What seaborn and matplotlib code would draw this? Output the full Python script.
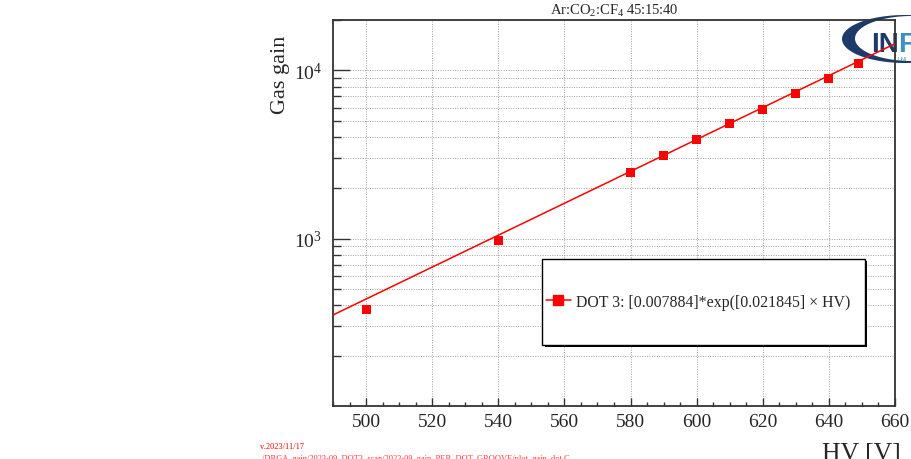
import numpy as np
import pandas as pd
import seaborn as sns
import matplotlib.pyplot as plt
from matplotlib.lines import Line2D
from matplotlib.patches import Rectangle, PathPatch
from matplotlib.path import Path
from matplotlib.ticker import MultipleLocator, LogLocator, NullFormatter

# --------------------------------------------------
# DATA
# --------------------------------------------------

hv = [500, 540, 580, 590, 600, 610, 620, 630, 640, 649]
gain = [379, 973, 2472, 3105, 3862, 4807, 5873, 7241, 8918, 11001]

# fit parameters as printed in the legend
p0 = 0.007884
p1 = 0.021845
fit_lo, fit_hi = 490, 660

title = "Ar:CO$_2$:CF$_4$ 45:15:40"
legend_label = "DOT 3: [0.007884]*exp([0.021845] \u00d7 HV)"
version = "v.2023/11/17"
macro_path = "/DRGA_gain/2023-09_DOT3_scan/2023-09_gain_PER_DOT_GROOVE/plot_gain_dot.C"

points = pd.DataFrame({"HV": hv, "gain": gain})
x_fit = np.linspace(fit_lo, fit_hi, 200)
fit = pd.DataFrame({"HV": x_fit, "gain": p0 * np.exp(p1 * x_fit)})

# --------------------------------------------------
# STYLE
# --------------------------------------------------

sns.set_style("ticks")
plt.rcParams["font.family"] = ["Liberation Serif", "DejaVu Serif"]
plt.rcParams["mathtext.fontset"] = "custom"
plt.rcParams["mathtext.rm"] = "Liberation Serif"
plt.rcParams["mathtext.it"] = "Liberation Serif:italic"

W, H = 912, 460
fig = plt.figure(figsize=(W / 100, H / 100), dpi=100)
fig.patch.set_facecolor("white")
ax = fig.add_axes([333 / W, 1 - 407 / H, (895 - 333) / W, (407 - 20.7) / H])
ax.set_facecolor("none")

# --------------------------------------------------
# PLOT
# --------------------------------------------------

sns.lineplot(data=fit, x="HV", y="gain", color="red", lw=1.1, ax=ax, zorder=3)
sns.scatterplot(data=points, x="HV", y="gain", marker="s", s=42, color="red",
                edgecolor="none", ax=ax, zorder=4)

ax.set_yscale("log")
ax.set_xlim(fit_lo, fit_hi)
ax.set_ylim(101, 20000)

ax.xaxis.set_major_locator(MultipleLocator(20))
ax.xaxis.set_minor_locator(MultipleLocator(5))
ax.yaxis.set_major_locator(LogLocator(base=10))
ax.yaxis.set_minor_locator(LogLocator(base=10, subs=range(2, 10)))
ax.yaxis.set_minor_formatter(NullFormatter())

ax.tick_params(axis="x", which="major", direction="in", length=6, width=1,
               labelsize=14, pad=5, color="#333333")
ax.tick_params(axis="x", which="minor", direction="in", length=3, width=1,
               color="#333333")
ax.tick_params(axis="y", which="major", direction="in", length=12, width=1,
               labelsize=14, pad=8, color="#333333")
ax.tick_params(axis="y", which="minor", direction="in", length=6, width=1,
               color="#333333")

grid_kw = dict(color="#a0a0a0", lw=0.7, ls=(0, (1, 1.5)))
ax.grid(True, which="major", axis="x", **grid_kw)
ax.grid(True, which="both", axis="y", **grid_kw)

for s in ax.spines.values():
    s.set_color("#333333")
    s.set_linewidth(1.3)
    s.set_visible(True)

ax.set_title(title, fontsize=10.5, pad=4)
ax.set_ylabel("Gas gain", fontsize=16)
ax.yaxis.set_label_coords(-0.077, 0.86)
ax.set_xlabel("HV [V]", fontsize=18.5)
ax.xaxis.label.set_ha("right")
ax.xaxis.set_label_coords(1.01, -0.093)

# legend box with ROOT-like shadow
ax.add_patch(Rectangle((545 / W, 1 - 348 / H), (867 - 545) / W, (348 - 262) / H,
                       transform=fig.transFigure, facecolor="black",
                       edgecolor="none", zorder=4.8, clip_on=False))
ax.add_patch(Rectangle((542 / W, 1 - 346 / H), (865 - 542) / W, (346 - 260) / H,
                       transform=fig.transFigure, facecolor="white",
                       edgecolor="black", lw=1, zorder=4.9, clip_on=False))
handle = Line2D([], [], color="red", lw=1.1, marker="s", markersize=6.5)
ax.legend(handles=[handle], labels=[legend_label], loc="center left",
          bbox_to_anchor=(546 / W, 1 - 303 / H), bbox_transform=fig.transFigure,
          frameon=False, fontsize=11.4, handlelength=1.55, handletextpad=0.35,
          borderpad=0, borderaxespad=0)

# --------------------------------------------------
# LOGO (partly outside the canvas) AND FOOTER
# --------------------------------------------------

t = np.linspace(0, 2 * np.pi, 200)
outer = np.c_[905 + 63 * np.cos(t), 40 + 24 * np.sin(t)]
inner = np.c_[912 + 57 * np.cos(t), 39.5 + 22.5 * np.sin(t)][::-1]
verts = np.vstack([outer, inner])
verts = np.c_[verts[:, 0] / W, 1 - verts[:, 1] / H]
codes = ([Path.MOVETO] + [Path.LINETO] * 198 + [Path.CLOSEPOLY]) * 2
fig.add_artist(PathPatch(Path(verts, codes), facecolor="#1d3a6b",
                         edgecolor="none", transform=fig.transFigure, zorder=-1))
fig.text(871 / W, 1 - 52 / H, "IN", color="#1d3a6b", fontsize=20,
         fontweight="bold", family="Liberation Sans", ha="left",
         va="baseline", zorder=-1)
fig.text(898 / W, 1 - 52 / H, "F", color="#3f8fc0", fontsize=20,
         fontweight="bold", family="Liberation Sans", ha="left",
         va="baseline", zorder=-1)
fig.text(898 / W, 1 - 61 / H, "UNI", color="#3f8fc0", fontsize=4,
         family="Liberation Sans", ha="left", va="baseline", zorder=-1)

fig.text(260 / W, 1 - 447 / H, version, color="red", fontsize=6, va="center")
fig.text(262 / W, 1 - 459 / H, macro_path, color="red", fontsize=6, va="center",
         alpha=0.8)

fig.savefig("out.png", dpi=100)
